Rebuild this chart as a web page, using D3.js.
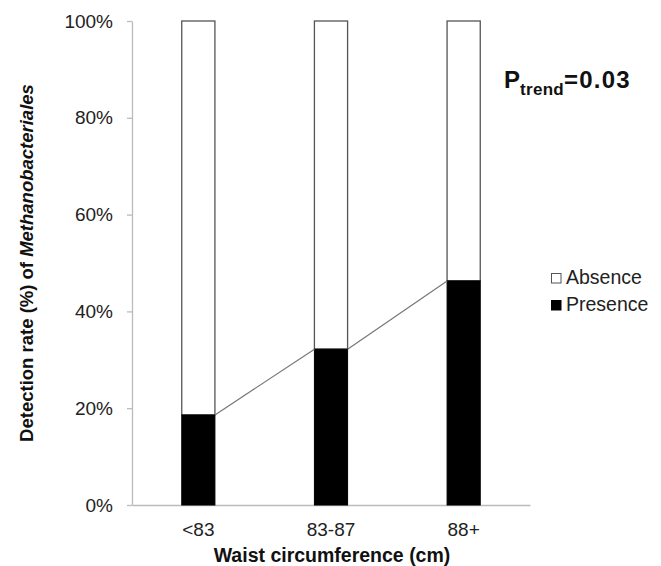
<!DOCTYPE html>
<html><head><meta charset="utf-8">
<script src="https://cdn.jsdelivr.net/npm/d3@7"></script>
<style>body{margin:0;background:#fff}svg{display:block}text{font-family:Arial,"Liberation Sans",sans-serif}</style>
</head><body><svg id="c" width="661" height="566"></svg>
<script>
const categories = ["<83", "83-87", "88+"];
const presence = [18.6, 32.2, 46.3];
const absence = presence.map(p => 100 - p);
const yTicks = [0, 20, 40, 60, 80, 100];
const legendLabels = ["Absence", "Presence"];

const svg = d3.select("#c");
const x = d3.scaleBand().domain(categories).range([132, 530]).paddingInner(0.75).paddingOuter(0.375);
const y = d3.scaleLinear().domain([0, 100]).range([505, 21]);
const bw = x.bandwidth();

// y axis
const ya = svg.append("g").attr("transform", "translate(132,0)")
  .call(d3.axisLeft(y).tickValues(yTicks).tickFormat(d => d + "%").tickSize(5).tickPadding(14).tickSizeOuter(0));
ya.select(".domain").attr("stroke", "#bbb").attr("stroke-width", 1.3);
ya.selectAll(".tick line").attr("stroke", "#bbb").attr("stroke-width", 1.3);
ya.selectAll(".tick text").attr("font-size", "19px").attr("fill", "#222").attr("font-family", "Arial,'Liberation Sans',sans-serif");

// x axis
const xa = svg.append("g").attr("transform", "translate(0,505)")
  .call(d3.axisBottom(x).tickSize(0).tickPadding(18).tickSizeOuter(0));
xa.select(".domain").attr("stroke", "#bbb").attr("stroke-width", 1.3);
xa.selectAll(".tick text").attr("font-size", "19px").attr("fill", "#222").attr("font-family", "Arial,'Liberation Sans',sans-serif");

// absence (white) segments
svg.selectAll(".abs").data(categories).enter().append("rect")
  .attr("x", d => x(d)).attr("width", bw)
  .attr("y", y(100)).attr("height", (d, i) => y(presence[i]) - y(100))
  .attr("fill", "#fff").attr("stroke", "#555").attr("stroke-width", 1.3);
// presence (black) segments
svg.selectAll(".pre").data(categories).enter().append("rect")
  .attr("x", d => x(d)).attr("width", bw)
  .attr("y", (d, i) => y(presence[i])).attr("height", (d, i) => y(0) - y(presence[i]))
  .attr("fill", "#000").attr("stroke", "#000").attr("stroke-width", 1);

// connecting lines
for (let i = 0; i < categories.length - 1; i++) {
  svg.append("line")
    .attr("x1", x(categories[i]) + bw).attr("y1", y(presence[i]))
    .attr("x2", x(categories[i + 1])).attr("y2", y(presence[i + 1]))
    .attr("stroke", "#777").attr("stroke-width", 1.2);
}

// axis titles
svg.append("text").attr("x", 332).attr("y", 562).attr("text-anchor", "middle")
  .attr("font-size", "19.5px").attr("font-weight", "bold").attr("fill", "#111").text("Waist circumference (cm)");
const yl = svg.append("text").attr("transform", "translate(33,263) rotate(-90)").attr("text-anchor", "middle")
  .attr("font-size", "18.5px").attr("font-weight", "bold").attr("fill", "#111");
yl.append("tspan").text("Detection rate (%) of ");
yl.append("tspan").attr("font-style", "italic").text("Methanobacteriales");

// P trend
const pt = svg.append("text").attr("x", 504).attr("y", 88).attr("font-weight", "bold").attr("fill", "#111").attr("font-size", "24px");
pt.append("tspan").text("P");
pt.append("tspan").attr("font-size", "17px").attr("dy", 7).attr("letter-spacing", "0.3px").text("trend");
pt.append("tspan").attr("dy", -7).attr("letter-spacing", "1.2px").text("=0.03");

// legend
const lg = svg.append("g");
legendLabels.forEach((l, i) => {
  const yy = 273 + i * 27;
  lg.append("rect").attr("x", 551.5).attr("y", yy + 0.5).attr("width", 9.5).attr("height", 9.5)
    .attr("fill", i === 0 ? "#fff" : "#000").attr("stroke", i === 0 ? "#555" : "#000").attr("stroke-width", 1);
  lg.append("text").attr("x", 566).attr("y", yy + 11).attr("font-size", "19.5px").attr("fill", "#222").text(l);
});
</script></body></html>
